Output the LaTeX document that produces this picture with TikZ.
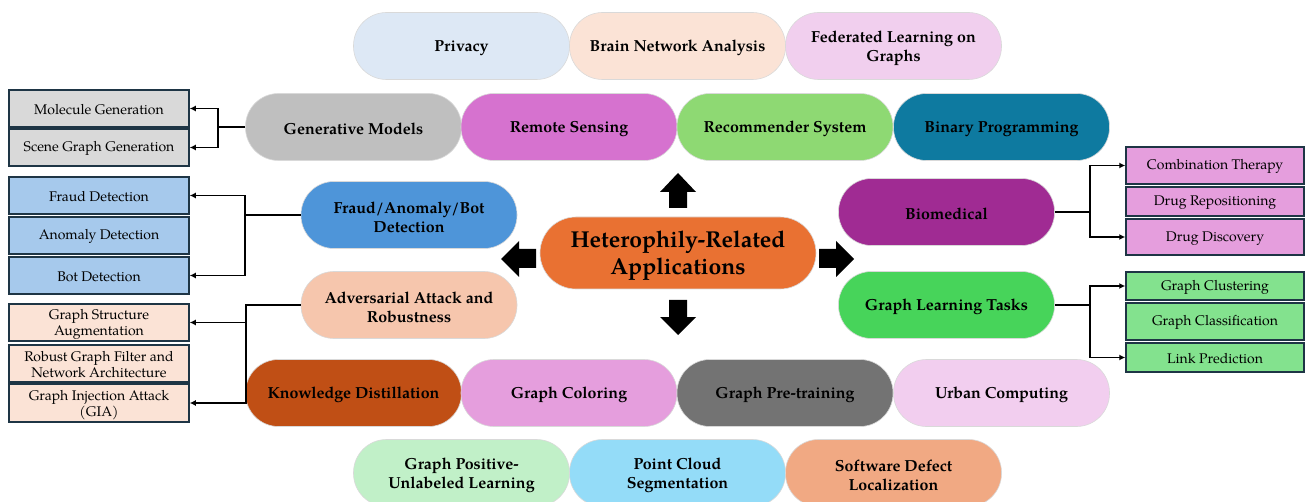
\documentclass[tikz,border=0pt]{standalone}
\usepackage{fontspec}
\setmainfont{TeX Gyre Pagella}
\usetikzlibrary{arrows.meta}
\newcommand{\mystrut}[1]{\rule{0pt}{#1}}
\definecolor{cPriv}{HTML}{DDE8F5}
\definecolor{cBrain}{HTML}{FBE3D6}
\definecolor{cFed}{HTML}{F1CFEE}
\definecolor{cGen}{HTML}{BFBFBF}
\definecolor{cRem}{HTML}{D672CF}
\definecolor{cRec}{HTML}{8ED973}
\definecolor{cBin}{HTML}{0E7AA0}
\definecolor{cFraud}{HTML}{4E95D9}
\definecolor{cBio}{HTML}{A02B93}
\definecolor{cCen}{HTML}{E97132}
\definecolor{cAdv}{HTML}{F6C6AD}
\definecolor{cGLT}{HTML}{47D45A}
\definecolor{cKD}{HTML}{C04F15}
\definecolor{cCol}{HTML}{E59EDD}
\definecolor{cPre}{HTML}{737373}
\definecolor{cUrb}{HTML}{F2CEEF}
\definecolor{cPU}{HTML}{C1F0C8}
\definecolor{cPC}{HTML}{94DCF8}
\definecolor{cSD}{HTML}{F1A983}
\definecolor{bGen}{HTML}{D9D9D9}
\definecolor{bFraud}{HTML}{A6C9EC}
\definecolor{bAdv}{HTML}{FBE3D6}
\definecolor{bBio}{HTML}{E59EDD}
\definecolor{bGLT}{HTML}{83E28E}
\definecolor{boxline}{HTML}{1E3545}
\begin{document}
\begin{tikzpicture}[x=1pt,y=-1pt,
  pill/.style={rectangle, rounded corners=33pt, minimum width=216pt, minimum height=67pt,
    inner sep=0pt, align=center, font=\fontsize{16}{19}\selectfont\bfseries,
    execute at begin node={\mystrut{15.5pt}},
    draw=black!15, line width=0.6pt},
  sbox/.style={rectangle, draw=boxline, line width=1.5pt, inner sep=0pt, align=center,
    font=\fontsize{14}{16}\selectfont, execute at begin node={\mystrut{12pt}}},
  lbox/.style={sbox, minimum width=180pt},
  rbox/.style={sbox, minimum width=178pt},
  conn/.style={line width=1.4pt, black},
  arr/.style={conn, -{Latex[length=6pt,width=6pt]}},
  blockarr/.style={fill=black, draw=none}]
\useasboundingbox (0,0) rectangle (1305,502);
% top row
\node[pill, fill=cPriv] (priv) at (461.5,46) {Privacy};
\node[pill, fill=cBrain] (brain) at (677.5,46) {Brain Network Analysis};
\node[pill, fill=cFed] (fed) at (893.5,46) {\mystrut{15.5pt}Federated Learning on\\Graphs};
% second row
\node[pill, fill=cGen] (gen) at (353.5,127) {Generative Models};
\node[pill, fill=cRem] (rem) at (569,127) {Remote Sensing};
\node[pill, fill=cRec] (rec) at (785,127) {Recommender System};
\node[pill, fill=cBin] (bin) at (1001.5,127) {Binary Programming};
% middle
\node[pill, fill=cFraud] (fraud) at (409,215) {\mystrut{15.5pt}Fraud/Anomaly/Bot\\Detection};
\node[pill, fill=cAdv] (adv) at (409,305) {\mystrut{15.5pt}Adversarial Attack and\\Robustness};
\node[pill, fill=cBio] (bio) at (946.5,212) {Biomedical};
\node[pill, fill=cGLT] (glt) at (946.5,305) {Graph Learning Tasks};
\node[rectangle, rounded corners=36pt, minimum width=276pt, minimum height=72pt, inner sep=0pt,
  align=center, font=\fontsize{23}{27}\selectfont\bfseries, fill=cCen, draw=black!15, line width=0.6pt]
  (cen) at (678,253) {\mystrut{22.5pt}Heterophily-Related\\Applications};
% bottom rows
\node[pill, fill=cKD] (kd) at (353.5,393) {Knowledge Distillation};
\node[pill, fill=cCol] (col) at (569,393) {Graph Coloring};
\node[pill, fill=cPre] (pre) at (785,393) {Graph Pre-training};
\node[pill, fill=cUrb] (urb) at (1001.5,393) {Urban Computing};
\node[pill, fill=cPU] (pu) at (461.5,473) {\mystrut{15.5pt}Graph Positive-\\Unlabeled Learning};
\node[pill, fill=cPC] (pc) at (677.5,473) {\mystrut{15.5pt}Point Cloud\\Segmentation};
\node[pill, fill=cSD] (sd) at (893.5,473) {\mystrut{15.5pt}Software Defect\\Localization};
% block arrows
\fill[blockarr] (669,208) -- (669,192) -- (660,192) -- (678,173) -- (696,192) -- (687,192) -- (687,208) -- cycle;
\fill[blockarr] (669,300) -- (687,300) -- (687,317) -- (696,317) -- (678,335) -- (660,317) -- (669,317) -- cycle;
\fill[blockarr] (536,249) -- (519,249) -- (519,241) -- (501,259) -- (519,277) -- (519,268) -- (536,268) -- cycle;
\fill[blockarr] (819,249) -- (836,249) -- (836,241) -- (854,259) -- (836,277) -- (836,268) -- (819,268) -- cycle;
% left boxes
\node[lbox, fill=bGen, minimum height=37pt] (mol) at (99,108.5) {Molecule Generation};
\node[lbox, fill=bGen, minimum height=37pt] (scene) at (99,147.5) {Scene Graph Generation};
\node[lbox, fill=bFraud, minimum height=37pt] (fd) at (99,195.5) {Fraud Detection};
\node[lbox, fill=bFraud, minimum height=37pt] (ad) at (99,235.5) {Anomaly Detection};
\node[lbox, fill=bFraud, minimum height=37pt] (bd) at (99,275.5) {Bot Detection};
\node[lbox, fill=bAdv, minimum height=37pt] (gsa) at (99,322.5) {\mystrut{14pt}Graph Structure\\Augmentation};
\node[lbox, fill=bAdv, minimum height=37pt] (rgf) at (99,363.5) {\mystrut{13pt}Robust Graph Filter and\\Network Architecture};
\node[lbox, fill=bAdv, minimum height=38pt] (gia) at (99,403) {\mystrut{14pt}Graph Injection Attack\\(GIA)};
% right boxes
\node[rbox, fill=bBio, minimum height=37pt] (ct) at (1215,165.5) {Combination Therapy};
\node[rbox, fill=bBio, minimum height=29pt] (dr) at (1215,201.5) {Drug Repositioning};
\node[rbox, fill=bBio, minimum height=36pt] (dd) at (1215,237) {Drug Discovery};
\node[rbox, fill=bGLT, minimum height=28pt] (gcl) at (1215,286) {Graph Clustering};
\node[rbox, fill=bGLT, minimum height=37pt] (gcs) at (1215,321.5) {Graph Classification};
\node[rbox, fill=bGLT, minimum height=29pt] (lp) at (1215,357.5) {Link Prediction};
% connectors
\coordinate (jg) at (218,127);
\draw[arr] (gen.west) -- (jg) |- (mol.east);
\draw[arr] (jg) |- (scene.east);
\coordinate (jf) at (245,215);
\draw[arr] (fraud.west) -- (jf) |- (fd.east);
\draw[arr] (jf) |- (bd.east);
\coordinate (ja) at (246,305);
\draw[arr] (adv.west) -- (ja) |- (gia.east);
\draw[arr] (ja |- gsa.east) -- (gsa.east);
\coordinate (jb) at (1090,212);
\draw[arr] (bio.east) -- (jb) |- (ct.west);
\draw[arr] (jb) |- (dd.west);
\coordinate (jl) at (1090,305);
\draw[arr] (glt.east) -- (jl) |- (gcl.west);
\draw[arr] (jl) |- (lp.west);
\end{tikzpicture}
\end{document}
